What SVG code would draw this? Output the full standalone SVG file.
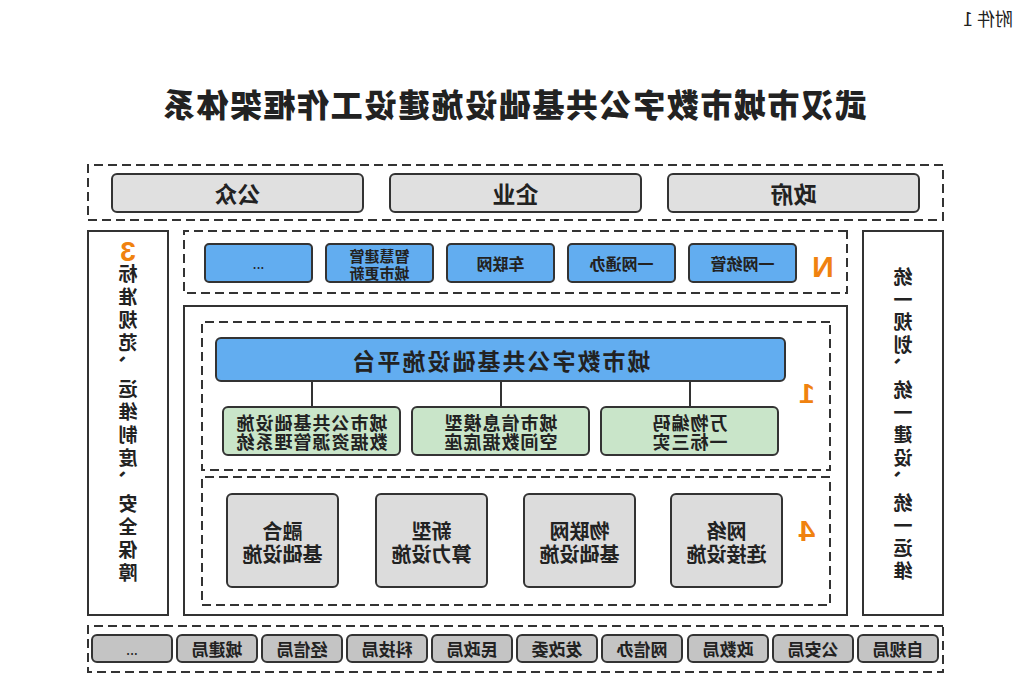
<svg xmlns="http://www.w3.org/2000/svg" width="1031" height="690" viewBox="0 0 1031 690">
<style>
text{font-family:"Noto Sans CJK SC","Noto Sans",sans-serif;fill:#222;text-anchor:middle;dominant-baseline:central;font-weight:700}
.dash{fill:none;stroke:#333;stroke-width:2;stroke-dasharray:9 5}
.solid{fill:#fff;stroke:#333;stroke-width:2}
.top{fill:#e0e0e0;stroke:#333;stroke-width:2}
.blue{fill:#62adf0;stroke:#333;stroke-width:2}
.green{fill:#c9e5c9;stroke:#333;stroke-width:2}
.gray{fill:#dcdcdc;stroke:#333;stroke-width:2}
.dept{fill:#c4c4c4;stroke:#333;stroke-width:2}
.num{fill:#f0820f;font-family:"Liberation Sans",sans-serif;font-weight:700}
.vt{font-size:19px;writing-mode:vertical-rl;text-anchor:start}
.g18{font-size:18px;letter-spacing:1px}
.i20{font-size:20px}
</style>
<rect width="1031" height="690" fill="#fff"/>
<g transform="matrix(-1 0 0 1 1031 0)">
<text x="43" y="18" style="font-size:18px;font-weight:400">附件 1</text>
<text id="title" x="517" y="103" style="font-size:32px;font-weight:900;letter-spacing:1.6px">武汉市城市数字公共基础设施建设工作框架体系</text>

<g id="users">
<rect class="dash" x="88" y="165" width="855" height="55"/>
<g id="gov"><rect class="top" x="112" y="174" width="251" height="38" rx="5"/><text x="237.5" y="193" style="font-size:23px">政府</text></g>
<g id="ent"><rect class="top" x="390" y="174" width="251" height="38" rx="5"/><text x="515.5" y="193" style="font-size:23px">企业</text></g>
<g id="pub"><rect class="top" x="668" y="174" width="251" height="38" rx="5"/><text x="793.5" y="193" style="font-size:23px">公众</text></g>
</g>

<g id="apps">
<rect class="dash" x="184" y="231" width="663" height="62"/>
<text class="num" x="208" y="266" style="font-size:30px">N</text>
<g id="a1"><rect class="blue" x="235" y="244" width="107" height="38" rx="4"/><text x="288.5" y="263" style="font-size:16px">一网统管</text></g>
<g id="a2"><rect class="blue" x="356" y="244" width="107" height="38" rx="4"/><text x="409.5" y="263" style="font-size:16px">一网通办</text></g>
<g id="a3"><rect class="blue" x="477" y="244" width="107" height="38" rx="4"/><text x="530.5" y="263" style="font-size:16px">车联网</text></g>
<g id="a4"><rect class="blue" x="598" y="244" width="107" height="38" rx="4"/><text style="font-size:15px"><tspan x="651.5" y="255">智慧建管</tspan><tspan x="651.5" y="272">城市更新</tspan></text></g>
<g id="a5"><rect class="blue" x="719" y="244" width="107" height="38" rx="4"/><text x="772.5" y="263" style="font-size:14px;font-weight:400">...</text></g>
</g>

<g id="leftcol">
<rect class="solid" x="88" y="231" width="80" height="384"/>
<text class="vt" x="128" y="267.5" style="letter-spacing:3.6px">统一规划、统一建设、统一运维</text>
</g>

<g id="rightcol">
<rect class="solid" x="863" y="231" width="80" height="384"/>
<text class="num" x="903" y="251" style="font-size:28px">3</text>
<text class="vt" x="903" y="264.5" style="letter-spacing:4px">标准规范、运维制度、安全保障</text>
</g>

<rect class="solid" x="184" y="306" width="663" height="309"/>

<g id="platform-layer">
<rect class="dash" x="201" y="322" width="628" height="148"/>
<text class="num" x="224" y="393" style="font-size:28px">1</text>
<g id="platform"><rect class="blue" x="246" y="338" width="569" height="43" rx="5"/><text x="530.5" y="359.5" style="font-size:23px;letter-spacing:2px">城市数字公共基础设施平台</text></g>
<g id="p1"><rect class="green" x="253" y="407" width="177" height="48" rx="5"/><text class="g18"><tspan x="341.5" y="422">万物编码</tspan><tspan x="341.5" y="441">一标三实</tspan></text></g>
<g id="p2"><rect class="green" x="442" y="407" width="177" height="48" rx="5"/><text class="g18"><tspan x="530.5" y="422">城市信息模型</tspan><tspan x="530.5" y="441">空间数据底座</tspan></text></g>
<g id="p3"><rect class="green" x="631" y="407" width="177" height="48" rx="5"/><text class="g18"><tspan x="719.5" y="422">城市公共基础设施</tspan><tspan x="719.5" y="441">数据资源管理系统</tspan></text></g>
</g>

<g id="connectors" stroke="#333" stroke-width="2">
<line x1="341" y1="381" x2="341" y2="407"/>
<line x1="530" y1="381" x2="530" y2="407"/>
<line x1="719" y1="381" x2="719" y2="407"/>
</g>

<g id="infra-layer">
<rect class="dash" x="201" y="477" width="628" height="128"/>
<text class="num" x="224" y="530" style="font-size:30px">4</text>
<g id="i1"><rect class="gray" x="249" y="494" width="111" height="93" rx="5"/><text class="i20"><tspan x="304.5" y="530">网络</tspan><tspan x="304.5" y="553">连接设施</tspan></text></g>
<g id="i2"><rect class="gray" x="396" y="494" width="111" height="93" rx="5"/><text class="i20"><tspan x="451.5" y="530">物联网</tspan><tspan x="451.5" y="553">基础设施</tspan></text></g>
<g id="i3"><rect class="gray" x="544" y="494" width="111" height="93" rx="5"/><text class="i20"><tspan x="599.5" y="530">新型</tspan><tspan x="599.5" y="553">算力设施</tspan></text></g>
<g id="i4"><rect class="gray" x="693" y="494" width="111" height="93" rx="5"/><text class="i20"><tspan x="748.5" y="530">融合</tspan><tspan x="748.5" y="553">基础设施</tspan></text></g>
</g>

<g id="depts">
<rect class="dash" x="88" y="626" width="855" height="46"/>
<g><rect class="dept" x="93" y="635" width="80" height="27" rx="5"/><text x="133" y="648.5" style="font-size:17px">自规局</text></g>
<g><rect class="dept" x="178" y="635" width="80" height="27" rx="5"/><text x="218" y="648.5" style="font-size:17px">公安局</text></g>
<g><rect class="dept" x="263" y="635" width="80" height="27" rx="5"/><text x="303" y="648.5" style="font-size:17px">政数局</text></g>
<g><rect class="dept" x="349" y="635" width="80" height="27" rx="5"/><text x="389" y="648.5" style="font-size:17px">网信办</text></g>
<g><rect class="dept" x="434" y="635" width="80" height="27" rx="5"/><text x="474" y="648.5" style="font-size:17px">发改委</text></g>
<g><rect class="dept" x="519" y="635" width="80" height="27" rx="5"/><text x="559" y="648.5" style="font-size:17px">民政局</text></g>
<g><rect class="dept" x="604" y="635" width="80" height="27" rx="5"/><text x="644" y="648.5" style="font-size:17px">科技局</text></g>
<g><rect class="dept" x="689" y="635" width="80" height="27" rx="5"/><text x="729" y="648.5" style="font-size:17px">经信局</text></g>
<g><rect class="dept" x="774" y="635" width="80" height="27" rx="5"/><text x="814" y="648.5" style="font-size:17px">城建局</text></g>
<g><rect class="dept" x="859" y="635" width="80" height="27" rx="5"/><text x="899" y="648.5" style="font-size:14px;font-weight:400">...</text></g>
</g>
</g>
</svg>
